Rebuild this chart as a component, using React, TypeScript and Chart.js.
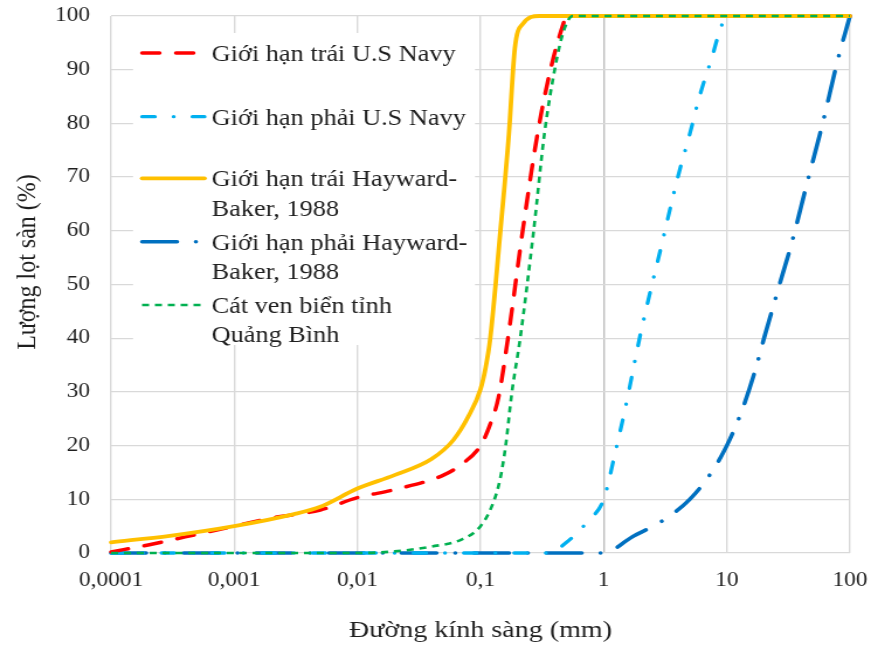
import React, { useEffect, useRef } from "react";
import { Chart, registerables } from "chart.js";

Chart.register(...registerables);

// ---------- data ----------
const xTickValues = [0.0001, 0.001, 0.01, 0.1, 1, 10, 100];
const xTickLabels = ["0,0001", "0,001", "0,01", "0,1", "1", "10", "100"];

const seriesLabels = [
  "Giới hạn trái U.S Navy",
  "Giới hạn phải U.S Navy",
  "Giới hạn trái Hayward-Baker, 1988",
  "Giới hạn phải Hayward-Baker, 1988",
  "Cát ven biển tỉnh Quảng Bình",
];
const legendLines = [
  ["Giới hạn trái U.S Navy"],
  ["Giới hạn phải U.S Navy"],
  ["Giới hạn trái Hayward-", "Baker, 1988"],
  ["Giới hạn phải Hayward-", "Baker, 1988"],
  ["Cát ven biển tỉnh", "Quảng Bình"],
];

// U.S Navy lower (left) limit
const navyLeftD = [0.0001, 0.0002, 0.0004, 0.001, 0.002, 0.005, 0.01, 0.02, 0.05, 0.07, 0.1, 0.12, 0.14, 0.167, 0.22, 0.29, 0.37, 0.47, 0.5, 100];
const navyLeftP = [0.2, 1.5, 3, 5, 6.5, 8, 10.3, 11.8, 14.5, 16.5, 20, 24, 29, 40, 60, 78, 90, 98.5, 100, 100];

// U.S Navy upper (right) limit
const navyRightD = [0.0001, 0.35, 0.5, 0.75, 1, 1.25, 1.5, 2, 3, 4, 5, 6, 7.5, 9, 10, 100];
const navyRightP = [0, 0, 2, 6, 10, 19, 27, 41, 58, 70, 78, 85, 92, 98, 100, 100];

// Hayward-Baker 1988 left limit
const hbLeftD = [0.0001, 0.0003, 0.001, 0.003, 0.005, 0.01, 0.02, 0.04, 0.06, 0.08, 0.1, 0.11, 0.12, 0.145, 0.17, 0.19, 0.22, 0.3, 100];
const hbLeftP = [2, 3.2, 5, 7.2, 8.6, 12, 14.5, 17.5, 21, 25.5, 30.5, 34.5, 40, 60, 78, 94, 98.5, 100, 100];

// Hayward-Baker 1988 right limit
const hbRightD = [0.0001, 1, 1.7, 3, 5, 7.5, 10, 13, 17, 20.4, 23.6, 28, 33, 45, 60, 80, 100];
const hbRightP = [0, 0, 3, 6, 10, 15, 20, 26, 34, 40.6, 45.6, 51.5, 57, 69, 80, 92, 100];

// Beach sand, Quang Binh
const sandD = [0.0001, 0.01, 0.02, 0.04, 0.07, 0.1, 0.125, 0.145, 0.16, 0.18, 0.21, 0.27, 0.33, 0.4, 0.47, 0.56, 100];
const sandP = [0, 0, 0.3, 1.2, 2.5, 5, 9, 14, 20, 30, 40, 60, 78, 90, 97, 100, 100];

const toPoints = (xs: number[], ys: number[]) => xs.map((x, i) => ({ x, y: ys[i] }));

// ---------- layout ----------
const OUT_W = 871;
const OUT_H = 645;
const IN_W = 745; // canvas drawn narrower then stretched horizontally, like the reference
const FONT = "'Liberation Serif', 'Times New Roman', serif";
const TEXT = "#1f1f1f";
const CLEAR = "rgba(0,0,0,0)";

const legendPlugin = {
  id: "innerLegend",
  beforeDatasetsDraw(chart: any) {
    const ctx = chart.ctx;
    ctx.save();
    ctx.fillStyle = "#ffffff";
    ctx.fillRect(113.8, 33, 292.5, 312);
    const rowY = [53, 116.7, 178.3, 241.7, 305];
    legendLines.forEach((lines, i) => {
      const ds = chart.data.datasets[i];
      const y = rowY[i];
      ctx.beginPath();
      ctx.setLineDash(ds.borderDash || []);
      ctx.lineCap = ds.borderCapStyle || "butt";
      ctx.lineWidth = ds.borderWidth;
      ctx.strokeStyle = ds.borderColor;
      ctx.moveTo(121.5, y);
      ctx.lineTo(175, y);
      ctx.stroke();
      ctx.setLineDash([]);
      ctx.fillStyle = TEXT;
      ctx.font = `22.5px ${FONT}`;
      ctx.textAlign = "left";
      ctx.textBaseline = "alphabetic";
      lines.forEach((t, j) => ctx.fillText(t, 181, y + 7.8 + j * 29.5));
    });
    ctx.restore();
  },
  afterDraw(chart: any) {
    const ctx = chart.ctx;
    const ca = chart.chartArea;
    ctx.save();
    ctx.fillStyle = TEXT;
    ctx.font = `24px ${FONT}`;
    ctx.textAlign = "center";
    ctx.textBaseline = "alphabetic";
    ctx.fillText("Đường kính sàng (mm)", (ca.left + ca.right) / 2, 637);
    ctx.translate(30, 262);
    ctx.rotate(-Math.PI / 2);
    ctx.fillText("Lượng lọt sàn (%)", 0, 0);
    ctx.restore();
  },
};

export default function App() {
  const ref = useRef<HTMLCanvasElement | null>(null);

  useEffect(() => {
    if (!ref.current) return;
    const chart = new Chart(ref.current, {
      type: "line",
      data: {
        datasets: [
          {
            label: seriesLabels[0],
            data: toPoints(navyLeftD, navyLeftP),
            borderColor: "#FF0000",
            borderWidth: 3.5,
            borderDash: [15, 14],
            borderCapStyle: "round",
            order: 2,
          },
          {
            label: seriesLabels[1],
            data: toPoints(navyRightD, navyRightP),
            borderColor: "#00B0F0",
            borderWidth: 3.3,
            borderDash: [11, 16, 0.1, 16],
            borderCapStyle: "round",
            order: 3,
          },
          {
            label: seriesLabels[2],
            data: toPoints(hbLeftD, hbLeftP),
            borderColor: "#FFC000",
            borderWidth: 3.8,
            borderCapStyle: "round",
            order: 1,
          },
          {
            label: seriesLabels[3],
            data: toPoints(hbRightD, hbRightP),
            borderColor: "#0070C0",
            borderWidth: 3.6,
            borderDash: [30, 16, 0.1, 16],
            borderCapStyle: "round",
            order: 4,
          },
          {
            label: seriesLabels[4],
            data: toPoints(sandD, sandP),
            borderColor: "#00B050",
            borderWidth: 2.6,
            borderDash: [6, 5],
            borderCapStyle: "butt",
            order: 0,
          },
        ] as any,
      },
      options: {
        animation: false,
        responsive: false,
        devicePixelRatio: 1,
        elements: {
          point: { radius: 0, hoverRadius: 0 },
          line: { cubicInterpolationMode: "monotone", fill: false },
        },
        datasets: { line: { clip: 8 } as any },
        layout: { padding: { left: 0, top: 16, right: 18, bottom: 0 } },
        plugins: {
          legend: { display: false },
          tooltip: { enabled: false },
          title: { display: false },
        },
        scales: {
          x: {
            type: "logarithmic",
            min: 0.0001,
            max: 100,
            afterBuildTicks: (scale: any) => {
              scale.ticks = xTickValues.map((v) => ({ value: v }));
            },
            afterFit: (scale: any) => {
              scale.height = 92;
            },
            ticks: {
              autoSkip: false,
              maxRotation: 0,
              padding: 0,
              color: TEXT,
              font: { family: FONT, size: 20 },
              callback: (v: any) => {
                const i = xTickValues.findIndex((t) => Math.abs(Math.log10(t) - Math.log10(Number(v))) < 1e-6);
                return i >= 0 ? xTickLabels[i] : "";
              },
            },
            grid: {
              drawTicks: true,
              tickLength: 15.5,
              tickColor: CLEAR,
              lineWidth: 1.4,
              color: (c: any) => (c.tick && Math.abs(c.tick.value - 1) < 1e-9 ? "#bfbfbf" : "#d9d9d9"),
            },
            border: { display: false },
          },
          y: {
            type: "linear",
            min: 0,
            max: 100,
            afterFit: (scale: any) => {
              scale.width = 95;
            },
            ticks: {
              stepSize: 10,
              padding: 0,
              color: TEXT,
              font: { family: FONT, size: 20 },
            },
            grid: { drawTicks: true, tickLength: 18, tickColor: CLEAR, lineWidth: 1.3, color: "#d9d9d9" },
            border: { display: false },
          },
        },
      },
      plugins: [legendPlugin],
    } as any);
    return () => chart.destroy();
  }, []);

  return (
    <div style={{ position: "fixed", left: 0, top: 0, width: OUT_W, height: OUT_H, background: "#fff" }}>
      <canvas
        ref={ref}
        width={IN_W}
        height={OUT_H}
        style={{ display: "block", width: `${OUT_W}px`, height: `${OUT_H}px` }}
      />
    </div>
  );
}
